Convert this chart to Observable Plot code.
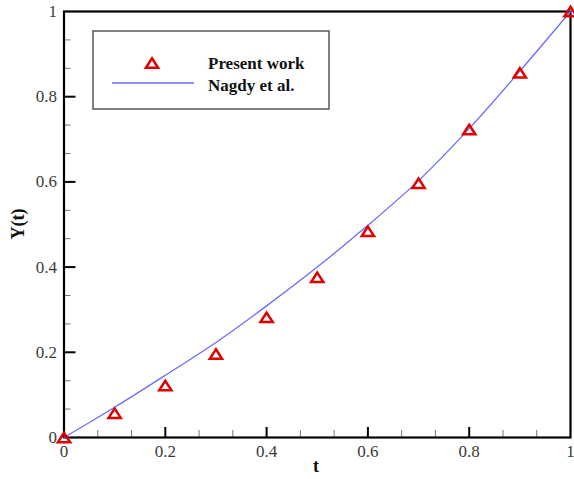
<!DOCTYPE html>
<html><head><meta charset="utf-8">
<script src="https://cdn.jsdelivr.net/npm/d3@7"></script>
<script src="https://cdn.jsdelivr.net/npm/@observablehq/plot@0.6"></script>
<style>body{margin:0;background:#fff} svg{display:block}</style>
</head><body><div id="chart"></div>
<script>
// Data
const tValues = [0, 0.1, 0.2, 0.3, 0.4, 0.5, 0.6, 0.7, 0.8, 0.9, 1.0];
const presentWork = [0.0, 0.057, 0.122, 0.196, 0.282, 0.376, 0.484, 0.597, 0.723, 0.856, 1.0];
const nagdyValues = [0.0, 0.071, 0.146, 0.223, 0.309, 0.400, 0.498, 0.603, 0.725, 0.860, 1.0];
const majorTicks = [0, 0.2, 0.4, 0.6, 0.8, 1];
const tickLabels = ["0", "0.2", "0.4", "0.6", "0.8", "1"];
const seriesNames = ["Present work", "Nagdy et al."];

const minorTicks = [];
for (let i = 0; i < majorTicks.length - 1; i++) {
  const a = majorTicks[i], b = majorTicks[i + 1];
  minorTicks.push(a + (b - a) / 3, a + 2 * (b - a) / 3);
}

const pointsData = tValues.map((t, i) => ({t, y: presentWork[i]}));
const lineData = tValues.map((t, i) => ({t, y: nagdyValues[i]}));

const W = 574, H = 479;
const mL = 63.5, mR = 4, mT = 11, mB = 42;
const innerH = H - mT - mB, innerW = W - mL - mR;
const RED = "#e00000", BLUE = "#6b6bff";
const FONT = "'Liberation Serif', 'Times New Roman', serif";

const flatTriangle = {
  draw(ctx, size) {
    const w = 6.1, h = 4.7;
    ctx.moveTo(0, -h);
    ctx.lineTo(w, h);
    ctx.lineTo(-w, h);
    ctx.closePath();
  }
};

const fmt = d => tickLabels[majorTicks.indexOf(d)] ?? "";

const chart = Plot.plot({
  width: W, height: H,
  marginLeft: mL, marginRight: mR, marginTop: mT, marginBottom: mB,
  style: {fontFamily: FONT, background: "#fff"},
  x: {domain: [0, 1]},
  y: {domain: [0, 1]},
  marks: [
    Plot.axisX(majorTicks, {tickSize: 0, tickPadding: 7, tickFormat: fmt, fontSize: 17, fontFamily: FONT, fill: "#3a3a3a", label: null}),
    Plot.axisY(majorTicks, {tickSize: 0, tickPadding: 7, tickFormat: fmt, fontSize: 17, fontFamily: FONT, fill: "#3a3a3a", label: null}),
    // minor ticks (inward)
    Plot.tickX(minorTicks, {x: d => d, insetTop: innerH - 7, stroke: "#777", strokeWidth: 1}),
    Plot.tickY(minorTicks, {y: d => d, insetRight: innerW - 7, stroke: "#777", strokeWidth: 1}),
    // major ticks (inward)
    Plot.tickX(majorTicks.slice(1, -1), {x: d => d, insetTop: innerH - 10, stroke: "#000", strokeWidth: 2}),
    Plot.tickY(majorTicks.slice(1, -1), {y: d => d, insetRight: innerW - 12, stroke: "#000", strokeWidth: 2}),
    Plot.frame({stroke: "#000", strokeWidth: 2.2}),
    Plot.line(lineData, {x: "t", y: "y", stroke: BLUE, strokeWidth: 1.3, curve: "catmull-rom"}),
    Plot.dot(pointsData, {x: "t", y: "y", symbol: flatTriangle, r: 5, stroke: RED, strokeWidth: 2.5, fill: "none", clip: false})
  ]
});

document.getElementById("chart").appendChild(chart);

const svg = d3.select(chart);
// axis titles
svg.append("text").attr("x", 316).attr("y", 472).attr("text-anchor", "middle")
  .attr("font-family", FONT).attr("font-weight", "bold").attr("font-size", 18).attr("fill", "#111").text("t");
svg.append("text").attr("transform", "translate(24,224) rotate(-90)").attr("text-anchor", "middle")
  .attr("font-family", FONT).attr("font-weight", "bold").attr("font-size", 18).attr("fill", "#111").text("Y(t)");

// legend
const lg = svg.append("g");
lg.append("rect").attr("x", 93).attr("y", 31).attr("width", 236).attr("height", 78)
  .attr("fill", "#fff").attr("stroke", "#555").attr("stroke-width", 1.5);
lg.append("path").attr("d", d3.symbol(flatTriangle)()).attr("transform", "translate(152,63)")
  .attr("fill", "none").attr("stroke", RED).attr("stroke-width", 2.5);
lg.append("line").attr("x1", 112).attr("x2", 194).attr("y1", 83).attr("y2", 83)
  .attr("stroke", BLUE).attr("stroke-width", 1.5);
lg.append("text").attr("x", 208).attr("y", 69).attr("text-anchor", "start").attr("font-family", FONT).attr("font-weight", "bold")
  .attr("font-size", 17).attr("fill", "#111").text(seriesNames[0]);
lg.append("text").attr("x", 208).attr("y", 91).attr("text-anchor", "start").attr("font-family", FONT).attr("font-weight", "bold")
  .attr("font-size", 17).attr("fill", "#111").text(seriesNames[1]);
</script>
</body></html>
